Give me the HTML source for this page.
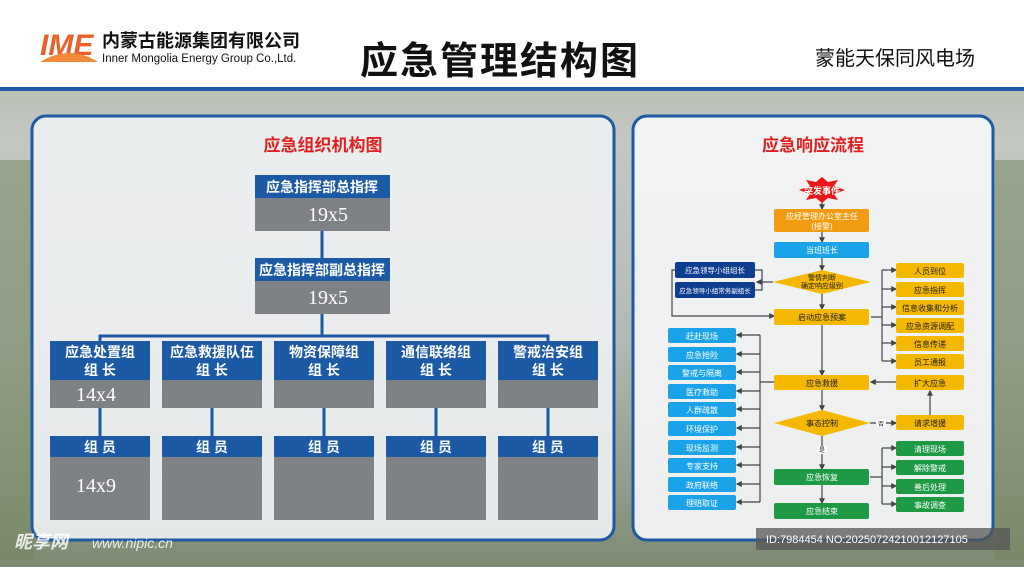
<!DOCTYPE html>
<html><head><meta charset="utf-8"><style>
body{margin:0;width:1024px;height:567px;overflow:hidden;font-family:"Liberation Sans","Noto Sans CJK SC",sans-serif}
</style></head><body>
<svg width="1024" height="567" viewBox="0 0 1024 567" xmlns="http://www.w3.org/2000/svg" font-family="Liberation Sans, Noto Sans CJK SC, sans-serif">
<defs>
<linearGradient id="bg" x1="0" y1="0" x2="0" y2="1">
<stop offset="0" stop-color="#a9b1a2"/><stop offset="0.25" stop-color="#c4c8c2"/><stop offset="0.6" stop-color="#b3b9b4"/><stop offset="1" stop-color="#7d8b72"/></linearGradient>
<marker id="a" markerWidth="5" markerHeight="5" refX="4" refY="2.5" orient="auto"><path d="M0 0L5 2.5L0 5Z" fill="#444"/></marker>
</defs>
<rect width="1024" height="567" fill="url(#bg)"/>
<rect x="0" y="160" width="34" height="400" fill="#75875f" opacity="0.55"/>
<rect x="995" y="160" width="29" height="400" fill="#75875f" opacity="0.55"/>
<rect width="1024" height="88" fill="#fff"/>
<rect y="87" width="1024" height="4" fill="#1c5aa6"/>
<text x="40" y="55" font-size="30" font-weight="bold" fill="#e8602a" font-style="italic">IME</text>
<path d="M40 62 Q70 44 98 62 Z" fill="#f08a3a"/>
<text x="102" y="47" font-size="18" font-weight="bold" fill="#111">内蒙古能源集团有限公司</text>
<text x="102" y="62" font-size="11.5" fill="#111">Inner Mongolia Energy Group Co.,Ltd.</text>
<text x="360" y="74" font-size="38" font-weight="bold" fill="#111" letter-spacing="2">应急管理结构图</text>
<text x="815" y="65" font-size="20" fill="#111">蒙能天保同风电场</text>

<rect x="32" y="116" width="582" height="424" rx="14" fill="#f0f2f4" fill-opacity="0.9" stroke="#1c5aa6" stroke-width="3"/>
<rect x="633" y="116" width="360" height="424" rx="14" fill="#f3f4f5" fill-opacity="0.94" stroke="#1c5aa6" stroke-width="3"/>
<text x="323" y="151" font-size="17" font-weight="bold" fill="#e02020" text-anchor="middle">应急组织机构图</text>
<text x="813" y="151" font-size="17" font-weight="bold" fill="#e02020" text-anchor="middle">应急响应流程</text>

<g fill="#1c5aa6"><rect x="255" y="175" width="135" height="23"/><rect x="255" y="258" width="135" height="23"/></g>
<g fill="#7e8185"><rect x="255" y="198" width="135" height="33"/><rect x="255" y="281" width="135" height="33"/></g>
<g fill="#fff" font-size="14" text-anchor="middle" font-weight="bold"><text x="322" y="192">应急指挥部总指挥</text><text x="322" y="275">应急指挥部副总指挥</text></g>
<g fill="#fff" font-size="20" text-anchor="middle" font-family="Liberation Serif,serif"><text x="328" y="221">19x5</text><text x="328" y="304">19x5</text></g>
<g stroke="#1c5aa6" stroke-width="3" fill="none"><path d="M322 231V258M322 314V336M100 341V336H548V341"/></g>

<g font-size="14" text-anchor="middle">
<rect x="50" y="341" width="100" height="39" fill="#1c5aa6"/><rect x="50" y="380" width="100" height="28" fill="#7e8185"/>
<rect x="162" y="341" width="100" height="39" fill="#1c5aa6"/><rect x="162" y="380" width="100" height="28" fill="#7e8185"/>
<rect x="274" y="341" width="100" height="39" fill="#1c5aa6"/><rect x="274" y="380" width="100" height="28" fill="#7e8185"/>
<rect x="386" y="341" width="100" height="39" fill="#1c5aa6"/><rect x="386" y="380" width="100" height="28" fill="#7e8185"/>
<rect x="498" y="341" width="100" height="39" fill="#1c5aa6"/><rect x="498" y="380" width="100" height="28" fill="#7e8185"/>
<g fill="#fff" font-weight="bold">
<text x="100" y="357">应急处置组</text><text x="100" y="375">组 长</text>
<text x="212" y="357">应急救援队伍</text><text x="212" y="375">组 长</text>
<text x="324" y="357">物资保障组</text><text x="324" y="375">组 长</text>
<text x="436" y="357">通信联络组</text><text x="436" y="375">组 长</text>
<text x="548" y="357">警戒治安组</text><text x="548" y="375">组 长</text>
</g>
<rect x="50" y="436" width="100" height="21" fill="#1c5aa6"/><rect x="50" y="457" width="100" height="63" fill="#7e8185"/>
<rect x="162" y="436" width="100" height="21" fill="#1c5aa6"/><rect x="162" y="457" width="100" height="63" fill="#7e8185"/>
<rect x="274" y="436" width="100" height="21" fill="#1c5aa6"/><rect x="274" y="457" width="100" height="63" fill="#7e8185"/>
<rect x="386" y="436" width="100" height="21" fill="#1c5aa6"/><rect x="386" y="457" width="100" height="63" fill="#7e8185"/>
<rect x="498" y="436" width="100" height="21" fill="#1c5aa6"/><rect x="498" y="457" width="100" height="63" fill="#7e8185"/>
<g fill="#fff" font-weight="bold"><text x="100" y="452">组 员</text><text x="212" y="452">组 员</text><text x="324" y="452">组 员</text><text x="436" y="452">组 员</text><text x="548" y="452">组 员</text></g>
<g fill="#fff" font-size="20" font-family="Liberation Serif,serif"><text x="96" y="401">14x4</text><text x="96" y="492">14x9</text></g>
</g>
<g stroke="#1c5aa6" stroke-width="3"><path d="M100 408V436M212 408V436M324 408V436M436 408V436M548 408V436"/></g>

<!-- flowchart -->
<g stroke="#444" stroke-width="1.2" fill="none">
<path d="M822 200V209" marker-end="url(#a)"/><path d="M822 232V242" marker-end="url(#a)"/>
<path d="M822 258V270" marker-end="url(#a)"/><path d="M822 294V309" marker-end="url(#a)"/>
<path d="M822 325V375" marker-end="url(#a)"/><path d="M822 390V410" marker-end="url(#a)"/>
<path d="M822 436V469" marker-end="url(#a)"/><path d="M822 485V503" marker-end="url(#a)"/>
<path d="M773 282H757" marker-end="url(#a)"/>
<path d="M688 270H672V316H774" marker-end="url(#a)"/>
<path d="M871 317H882M882 270V361"/>
<path d="M882 270H896" marker-end="url(#a)"/><path d="M882 289H896" marker-end="url(#a)"/>
<path d="M882 307H896" marker-end="url(#a)"/><path d="M882 325H896" marker-end="url(#a)"/>
<path d="M882 343H896" marker-end="url(#a)"/><path d="M882 361H896" marker-end="url(#a)"/>
<path d="M774 382H760M760 335V502"/>
<path d="M760 335H737" marker-end="url(#a)"/><path d="M760 354H737" marker-end="url(#a)"/>
<path d="M760 372H737" marker-end="url(#a)"/><path d="M760 391H737" marker-end="url(#a)"/>
<path d="M760 409H737" marker-end="url(#a)"/><path d="M760 428H737" marker-end="url(#a)"/>
<path d="M760 447H737" marker-end="url(#a)"/><path d="M760 465H737" marker-end="url(#a)"/>
<path d="M760 484H737" marker-end="url(#a)"/><path d="M760 502H737" marker-end="url(#a)"/>
<path d="M896 382H871" marker-end="url(#a)"/>
<path d="M930 415V391" marker-end="url(#a)"/>
<path d="M870 423H896" marker-end="url(#a)"/>
<path d="M870 477H882M882 448V504"/>
<path d="M882 448H896" marker-end="url(#a)"/><path d="M882 467H896" marker-end="url(#a)"/>
<path d="M882 486H896" marker-end="url(#a)"/><path d="M882 504H896" marker-end="url(#a)"/>
<path d="M755 270H762V290H755"/>
</g>
<polygon points="822,177 828,182 838,180 834,186 845,190 834,194 838,200 828,198 822,203 816,198 806,200 810,194 799,190 810,186 806,180 816,182" fill="#e81818"/>
<text x="822" y="194" font-size="9" fill="#fff" text-anchor="middle" font-weight="bold">突发事件</text>
<rect x="774" y="209" width="95" height="23" rx="2" fill="#f39c12"/>
<text x="822" y="219" font-size="8" fill="#fff" text-anchor="middle">应经管理办公室主任</text><text x="822" y="229" font-size="8" fill="#fff" text-anchor="middle">(接警)</text>
<rect x="774" y="242" width="95" height="16" rx="2" fill="#1aa3e8"/><text x="822" y="253" font-size="8" fill="#fff" text-anchor="middle">当班班长</text>
<polygon points="773,282 822,270 871,282 822,294" fill="#f5b800"/>
<text x="822" y="280" font-size="7" text-anchor="middle" fill="#222">警情判断</text><text x="822" y="288" font-size="7" text-anchor="middle" fill="#222">确定响应级别</text>
<rect x="675" y="262" width="80" height="16" rx="2" fill="#0d3e8f"/><text x="715" y="273" font-size="7.5" fill="#fff" text-anchor="middle">应急领导小组组长</text>
<rect x="675" y="282" width="80" height="16" rx="2" fill="#0d3e8f"/><text x="715" y="293" font-size="6.5" fill="#fff" text-anchor="middle">应急领导小组常务副组长</text>
<rect x="774" y="309" width="95" height="16" rx="2" fill="#f5b800"/><text x="822" y="320" font-size="8" text-anchor="middle" fill="#222">启动应急预案</text>
<g font-size="8" text-anchor="middle" fill="#222">
<rect x="896" y="263" width="68" height="15" rx="2" fill="#f5b800"/><text x="930" y="274">人员到位</text>
<rect x="896" y="282" width="68" height="15" rx="2" fill="#f5b800"/><text x="930" y="293">应急指挥</text>
<rect x="896" y="300" width="68" height="15" rx="2" fill="#f5b800"/><text x="930" y="311">信息收集和分析</text>
<rect x="896" y="318" width="68" height="15" rx="2" fill="#f5b800"/><text x="930" y="329">应急资源调配</text>
<rect x="896" y="336" width="68" height="15" rx="2" fill="#f5b800"/><text x="930" y="347">信息传递</text>
<rect x="896" y="354" width="68" height="15" rx="2" fill="#f5b800"/><text x="930" y="365">员工通报</text>
<rect x="774" y="375" width="95" height="15" rx="2" fill="#f5b800"/><text x="822" y="386">应急救援</text>
<rect x="896" y="375" width="68" height="15" rx="2" fill="#f5b800"/><text x="930" y="386">扩大应急</text>
<polygon points="774,423 822,410 870,423 822,436" fill="#f5b800"/><text x="822" y="426">事态控制</text>
<rect x="896" y="415" width="68" height="15" rx="2" fill="#f5b800"/><text x="930" y="426">请求增援</text>
<rect x="876" y="419" width="10" height="8" fill="#fff"/><text x="881" y="426" font-size="6">否</text>
<rect x="817" y="446" width="10" height="8" fill="#fff"/><text x="822" y="452" font-size="6">是</text>
</g>
<g font-size="8" text-anchor="middle" fill="#fff">
<rect x="668" y="328" width="68" height="15" rx="2" fill="#1aa3e8"/><text x="702" y="339">赶赴现场</text>
<rect x="668" y="347" width="68" height="15" rx="2" fill="#1aa3e8"/><text x="702" y="358">应急抢险</text>
<rect x="668" y="365" width="68" height="15" rx="2" fill="#1aa3e8"/><text x="702" y="376">警戒与隔离</text>
<rect x="668" y="384" width="68" height="15" rx="2" fill="#1aa3e8"/><text x="702" y="395">医疗救助</text>
<rect x="668" y="402" width="68" height="15" rx="2" fill="#1aa3e8"/><text x="702" y="413">人群疏散</text>
<rect x="668" y="421" width="68" height="15" rx="2" fill="#1aa3e8"/><text x="702" y="432">环境保护</text>
<rect x="668" y="440" width="68" height="15" rx="2" fill="#1aa3e8"/><text x="702" y="451">现场监测</text>
<rect x="668" y="458" width="68" height="15" rx="2" fill="#1aa3e8"/><text x="702" y="469">专家支持</text>
<rect x="668" y="477" width="68" height="15" rx="2" fill="#1aa3e8"/><text x="702" y="488">政府联络</text>
<rect x="668" y="495" width="68" height="15" rx="2" fill="#1aa3e8"/><text x="702" y="506">理赔取证</text>
<rect x="774" y="469" width="95" height="16" rx="2" fill="#1e9a44"/><text x="822" y="480">应急恢复</text>
<rect x="774" y="503" width="95" height="16" rx="2" fill="#1e9a44"/><text x="822" y="514">应急结束</text>
<rect x="896" y="441" width="68" height="15" rx="2" fill="#1e9a44"/><text x="930" y="452">清理现场</text>
<rect x="896" y="460" width="68" height="15" rx="2" fill="#1e9a44"/><text x="930" y="471">解除警戒</text>
<rect x="896" y="479" width="68" height="15" rx="2" fill="#1e9a44"/><text x="930" y="490">善后处理</text>
<rect x="896" y="497" width="68" height="15" rx="2" fill="#1e9a44"/><text x="930" y="508">事故调查</text>
</g>
<rect x="756" y="528" width="254" height="22" fill="#555" opacity="0.75"/>
<text x="766" y="543" font-size="11" fill="#fff">ID:7984454 NO:20250724210012127105</text>
<text x="14" y="548" font-size="18" fill="#fff" font-weight="bold" font-style="italic" opacity="0.85">昵享网</text>
<text x="92" y="548" font-size="14" fill="#fff" font-style="italic" opacity="0.85">www.nipic.cn</text>
</svg>
</body></html>
